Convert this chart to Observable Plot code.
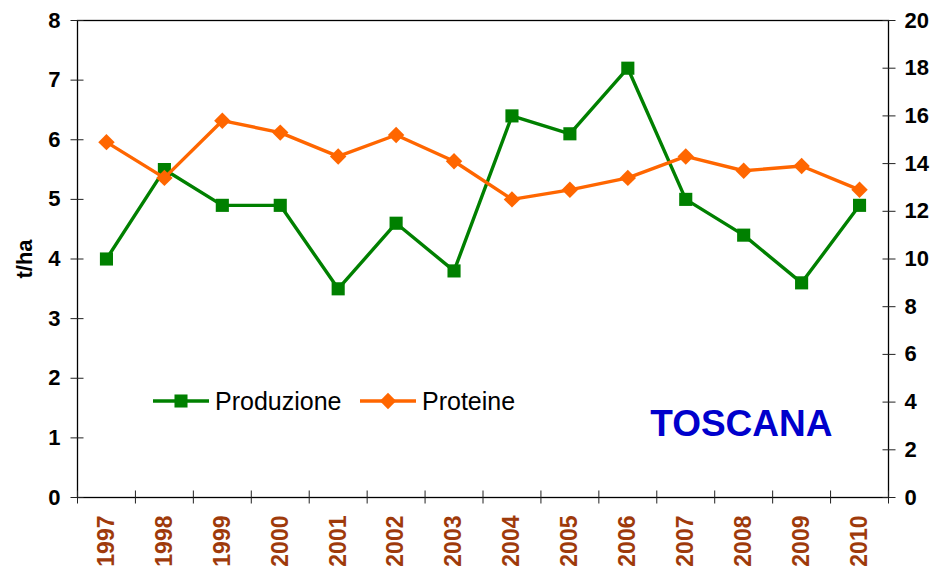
<!DOCTYPE html>
<html><head><meta charset="utf-8">
<script src="https://cdn.jsdelivr.net/npm/d3@7"></script>
<script src="https://cdn.jsdelivr.net/npm/@observablehq/plot@0.6"></script>
<style>
body{margin:0;background:#fff}
#chart{position:relative;width:933px;height:569px}
</style>
</head><body><div id="chart"></div>
<script>
const years = ["1997","1998","1999","2000","2001","2002","2003","2004","2005","2006","2007","2008","2009","2010"];
const produzione = [4.0,5.5,4.9,4.9,3.5,4.6,3.8,6.4,6.1,7.2,5.0,4.4,3.6,4.9];
const proteine = [14.9,13.4,15.8,15.3,14.3,15.2,14.1,12.5,12.9,13.4,14.3,13.7,13.9,12.9];
const leftTicks = [0,1,2,3,4,5,6,7,8];
const rightTicks = [0,2,4,6,8,10,12,14,16,18,20];
const seriesNames = ["Produzione","Proteine"];
const title = "TOSCANA";
const yLabel = "t/ha";

const leftMax = leftTicks[leftTicks.length-1];
const rightMax = rightTicks[rightTicks.length-1];
const ratio = leftMax / rightMax;
const rows = years.map((y, i) => ({i, year: y, prod: produzione[i], prot: proteine[i]}));
const font = "'Liberation Sans', Arial, sans-serif";
const green = "#008000", orange = "#FF6600", yearColor = "#9E3A0B";

const chart = Plot.plot({
  width: 933, height: 569,
  marginLeft: 77, marginRight: 45, marginTop: 20, marginBottom: 72,
  style: {fontFamily: font, background: "#fff", overflow: "visible"},
  x: {type: "linear", domain: [0, years.length]},
  y: {domain: [0, leftMax]},
  marks: [
    Plot.frame({stroke: "#000", strokeWidth: 1.3}),
    // left axis
    Plot.axisY({anchor: "left", ticks: leftTicks, tickSize: 13, dx: 6.5, fill: "none", stroke: "#222", label: null}),
    Plot.axisY({anchor: "left", ticks: leftTicks, tickSize: 0, tickPadding: 17, label: null,
      fontSize: 22, fontWeight: "bold", fill: "#000"}),
    // right axis
    Plot.axisY({anchor: "right", ticks: rightTicks.map(v => v * ratio), tickSize: 13, dx: -6.5, fill: "none", stroke: "#222", label: null}),
    Plot.axisY({anchor: "right", ticks: rightTicks.map(v => v * ratio), tickSize: 0, tickPadding: 16, label: null,
      tickFormat: d => String(Math.round(d / ratio)), fontSize: 22, fontWeight: "bold", fill: "#000"}),
    // x axis
    Plot.axisX({anchor: "bottom", ticks: d3.range(years.length + 1), tickSize: 13, dy: -6.5, fill: "none", stroke: "#222", label: null}),
    Plot.axisX({anchor: "bottom", ticks: years.map((_, i) => i + 0.5), tickFormat: d => years[Math.floor(d)],
      tickRotate: -90, tickSize: 0, tickPadding: 18, label: null, fontSize: 23, fontWeight: "bold", fill: yearColor}),
    // series
    Plot.line(rows, {x: d => d.i + 0.5, y: "prod", stroke: green, strokeWidth: 3.4}),
    Plot.dot(rows, {x: d => d.i + 0.5, y: "prod", symbol: "square", r: 7.4, fill: green, stroke: "none"}),
    Plot.line(rows, {x: d => d.i + 0.5, y: d => d.prot * ratio, stroke: orange, strokeWidth: 3.4}),
    Plot.dot(rows, {x: d => d.i + 0.5, y: d => d.prot * ratio, symbol: "diamond2", r: 7.4, fill: orange, stroke: "none"}),
    // texts
    Plot.text([title], {text: d => d, frameAnchor: "bottom-right", dx: -56, dy: -73, textAnchor: "end", lineAnchor: "middle",
      fontSize: 37, fontWeight: "bold", fill: "#0000CC"}),
    Plot.text([yLabel], {text: d => d, frameAnchor: "left", dx: -53, rotate: -90, textAnchor: "middle", lineAnchor: "middle",
      fontSize: 22, fontWeight: "bold", fill: "#000"})
  ]
});
document.getElementById("chart").appendChild(chart);

// legend inside the plot area
const svg = d3.select(chart);
const legend = [
  {name: seriesNames[0], color: green, symbol: d3.symbolSquare, x: 153, size: 170},
  {name: seriesNames[1], color: orange, symbol: d3.symbolDiamond2, x: 360, size: 170}
];
const ly = 401;
const g = svg.append("g").attr("font-family", font).attr("text-anchor", "start");
legend.forEach(l => {
  g.append("line").attr("x1", l.x).attr("x2", l.x + 56).attr("y1", ly).attr("y2", ly)
    .attr("stroke", l.color).attr("stroke-width", 3.4);
  g.append("path").attr("d", d3.symbol(l.symbol, l.size)()).attr("transform", `translate(${l.x + 28},${ly})`)
    .attr("fill", l.color);
  g.append("text").attr("x", l.x + 62).attr("y", ly).attr("dy", "0.35em").attr("text-anchor", "start")
    .attr("font-size", 25).attr("fill", "#000").text(l.name);
});
</script>
</body></html>
